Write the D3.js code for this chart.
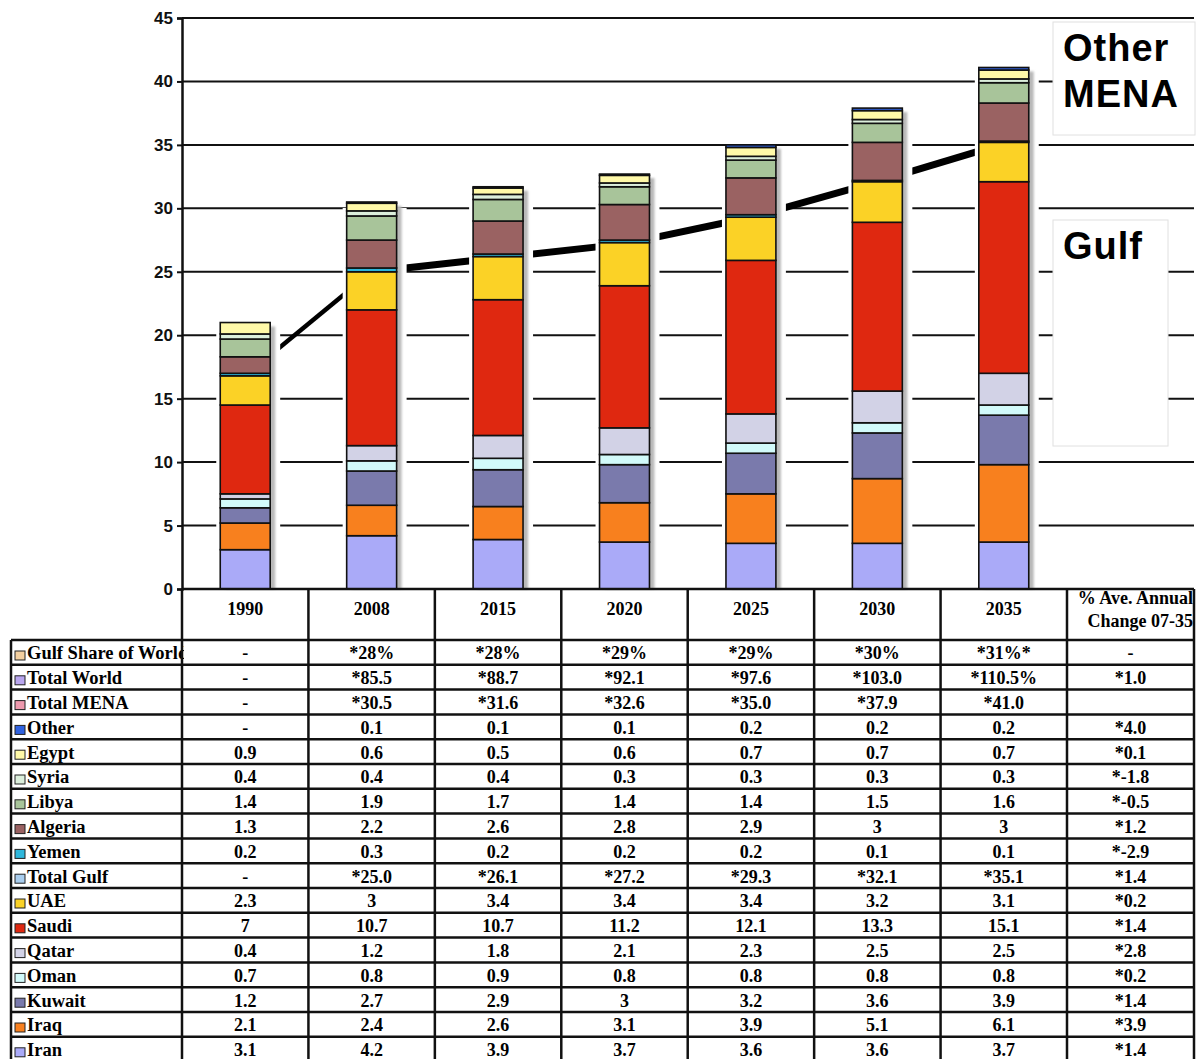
<!DOCTYPE html>
<html>
<head>
<meta charset="utf-8">
<script src="https://cdn.jsdelivr.net/npm/d3@7/dist/d3.min.js"></script>
<style>
  html, body { margin: 0; padding: 0; background: #fff; }
  svg { display: block; }
</style>
</head>
<body>
<svg id="chart" width="1196" height="1059"></svg>
<script>
// Oil production outlook, MENA producers (MMBD)
const categories = ["1990", "2008", "2015", "2020", "2025", "2030", "2035"];

// Producer series, bottom of the stack first
const iran    = [3.1, 4.2, 3.9, 3.7, 3.6, 3.6, 3.7];
const iraq    = [2.1, 2.4, 2.6, 3.1, 3.9, 5.1, 6.1];
const kuwait  = [1.2, 2.7, 2.9, 3, 3.2, 3.6, 3.9];
const oman    = [0.7, 0.8, 0.9, 0.8, 0.8, 0.8, 0.8];
const qatar   = [0.4, 1.2, 1.8, 2.1, 2.3, 2.5, 2.5];
const saudi   = [7, 10.7, 10.7, 11.2, 12.1, 13.3, 15.1];
const uae     = [2.3, 3, 3.4, 3.4, 3.4, 3.2, 3.1];
const yemen   = [0.2, 0.3, 0.2, 0.2, 0.2, 0.1, 0.1];
const algeria = [1.3, 2.2, 2.6, 2.8, 2.9, 3, 3];
const libya   = [1.4, 1.9, 1.7, 1.4, 1.4, 1.5, 1.6];
const syria   = [0.4, 0.4, 0.4, 0.3, 0.3, 0.3, 0.3];
const egypt   = [0.9, 0.6, 0.5, 0.6, 0.7, 0.7, 0.7];
const other   = [null, 0.1, 0.1, 0.1, 0.2, 0.2, 0.2];

// Total Gulf line (1990 point is the sum of the Gulf producers)
const totalGulf = [16.8, 25.0, 26.1, 27.2, 29.3, 32.1, 35.1];

// Summary rows of the table
const gulfShareText  = ["-", "*28%", "*28%", "*29%", "*29%", "*30%", "*31%*"];
const totalWorldText = ["-", "*85.5", "*88.7", "*92.1", "*97.6", "*103.0", "*110.5%"];
const totalMenaText  = ["-", "*30.5", "*31.6", "*32.6", "*35.0", "*37.9", "*41.0"];
const totalGulfText  = ["-", "*25.0", "*26.1", "*27.2", "*29.3", "*32.1", "*35.1"];

// % average annual change 07-35, table order
const changeHeader = ["% Ave. Annual", "Change 07-35"];
const changeText = ["-", "*1.0", "", "*4.0", "*0.1", "*-1.8", "*-0.5", "*1.2", "*-2.9",
                    "*1.4", "*0.2", "*1.4", "*2.8", "*0.2", "*1.4", "*3.9", "*1.4"];

const yTicks = [0, 5, 10, 15, 20, 25, 30, 35, 40, 45];

// ---- styling ----
const colors = {
  "Gulf Share of World": "#f3cfa0",
  "Total World": "#b9a6ee",
  "Total MENA": "#ee9aae",
  "Other": "#3163e0",
  "Egypt": "#fff9a8",
  "Syria": "#dcefdc",
  "Libya": "#a8c49a",
  "Algeria": "#9a6262",
  "Yemen": "#2fb7dc",
  "Total Gulf": "#a9cdee",
  "UAE": "#fbd226",
  "Saudi": "#df2810",
  "Qatar": "#d2d2e6",
  "Oman": "#d2fafa",
  "Kuwait": "#7a7aac",
  "Iraq": "#f8801e",
  "Iran": "#aaaaf8"
};

const series = [
  { name: "Iran", values: iran },
  { name: "Iraq", values: iraq },
  { name: "Kuwait", values: kuwait },
  { name: "Oman", values: oman },
  { name: "Qatar", values: qatar },
  { name: "Saudi", values: saudi },
  { name: "UAE", values: uae },
  { name: "Yemen", values: yemen },
  { name: "Algeria", values: algeria },
  { name: "Libya", values: libya },
  { name: "Syria", values: syria },
  { name: "Egypt", values: egypt },
  { name: "Other", values: other }
];

const fmt = v => (v === null ? "-" : String(v));
const byName = Object.fromEntries(series.map(s => [s.name, s.values.map(fmt)]));

// Table rows, top to bottom
const tableRows = [
  ["Gulf Share of World", gulfShareText],
  ["Total World", totalWorldText],
  ["Total MENA", totalMenaText],
  ["Other", byName["Other"]],
  ["Egypt", byName["Egypt"]],
  ["Syria", byName["Syria"]],
  ["Libya", byName["Libya"]],
  ["Algeria", byName["Algeria"]],
  ["Yemen", byName["Yemen"]],
  ["Total Gulf", totalGulfText],
  ["UAE", byName["UAE"]],
  ["Saudi", byName["Saudi"]],
  ["Qatar", byName["Qatar"]],
  ["Oman", byName["Oman"]],
  ["Kuwait", byName["Kuwait"]],
  ["Iraq", byName["Iraq"]],
  ["Iran", byName["Iran"]]
];

const svg = d3.select("#chart");

const plotLeft = 182, plotRight = 1067, gridRight = 1194;
const plotTop = 18, plotBottom = 589;

const x = d3.scaleBand()
  .domain(categories)
  .range([plotLeft, plotRight])
  .paddingInner(0.605)
  .paddingOuter(0.3025);

const y = d3.scaleLinear().domain([0, 45]).range([plotBottom, plotTop]);

const defs = svg.append("defs");
defs.append("filter").attr("id", "soft")
  .attr("x", "-50%").attr("y", "-10%").attr("width", "200%").attr("height", "120%")
  .append("feGaussianBlur").attr("stdDeviation", 1.2);
defs.append("clipPath").attr("id", "labelClip")
  .append("rect").attr("x", 0).attr("y", 0).attr("width", 184).attr("height", 1059);

// gridlines
svg.append("g")
  .selectAll("line")
  .data(yTicks)
  .join("line")
  .attr("x1", plotLeft).attr("x2", gridRight)
  .attr("y1", d => y(d)).attr("y2", d => y(d))
  .attr("stroke", "#111").attr("stroke-width", 2);

// Total Gulf line, drawn under the bars
const linePts = categories.map((c, i) => [x(c) + x.bandwidth() / 2, y(totalGulf[i])]);
svg.append("g")
  .selectAll("line")
  .data(d3.pairs(linePts))
  .join("line")
  .attr("x1", d => d[0][0]).attr("y1", d => d[0][1])
  .attr("x2", d => d[1][0]).attr("y2", d => d[1][1])
  .attr("stroke", "#000")
  .attr("stroke-width", (d, i) => (i === 0 ? 4.5 : 7));

// stacked bars
const keys = series.map(s => s.name);
const rowsData = categories.map((c, i) => {
  const o = { cat: c };
  series.forEach(s => { o[s.name] = s.values[i] || 0; });
  return o;
});
const stacked = d3.stack().keys(keys)(rowsData);
const totals = rowsData.map(r => d3.sum(keys, k => r[k]));

// drop shadows, with a thin white margin that breaks the line beside each bar
svg.append("g")
  .selectAll("rect")
  .data(rowsData)
  .join("rect")
  .attr("x", d => x(d.cat) - 4)
  .attr("y", (d, i) => y(totals[i]) + 6)
  .attr("width", x.bandwidth() + 14)
  .attr("height", (d, i) => y(0) - y(totals[i]) - 7)
  .attr("fill", "#fff");
svg.append("g")
  .selectAll("rect")
  .data(rowsData)
  .join("rect")
  .attr("x", d => x(d.cat) + 5)
  .attr("y", (d, i) => y(totals[i]) + 4)
  .attr("width", x.bandwidth())
  .attr("height", (d, i) => y(0) - y(totals[i]) - 4)
  .attr("fill", "#b9b9b9")
  .attr("filter", "url(#soft)");

const barG = svg.append("g");
stacked.forEach(layer => {
  barG.append("g")
    .attr("fill", colors[layer.key])
    .selectAll("rect")
    .data(layer.filter(d => d[1] - d[0] > 0))
    .join("rect")
    .attr("x", d => x(d.data.cat))
    .attr("y", d => y(d[1]))
    .attr("width", x.bandwidth())
    .attr("height", d => y(d[0]) - y(d[1]))
    .attr("stroke", "#111")
    .attr("stroke-width", 1.6);
});

// callout boxes
const boxes = [
  { lines: ["Other", "MENA"], x: 1053, y: 22, w: 142, h: 113 },
  { lines: ["Gulf"], x: 1053, y: 220, w: 115, h: 226 }
];
boxes.forEach(b => {
  svg.append("rect")
    .attr("x", b.x).attr("y", b.y).attr("width", b.w).attr("height", b.h)
    .attr("fill", "#fff").attr("stroke", "#e0e0e0").attr("stroke-width", 1);
  b.lines.forEach((t, i) => {
    svg.append("text")
      .attr("x", b.x + 10).attr("y", b.y + 39 + i * 46)
      .attr("font-family", "'Liberation Sans', Arial, sans-serif")
      .attr("font-weight", "bold").attr("font-size", 38)
      .attr("letter-spacing", 1)
      .attr("fill", "#000")
      .text(t);
  });
});

// y axis
const yAxis = d3.axisLeft(y).tickValues(yTicks).tickSize(5).tickPadding(4);
const ag = svg.append("g").attr("transform", `translate(${plotLeft},0)`).call(yAxis);
ag.select(".domain").attr("stroke", "#111").attr("stroke-width", 2.5);
ag.selectAll(".tick line").attr("stroke", "#111").attr("stroke-width", 2);
ag.selectAll(".tick text")
  .attr("font-family", "'Liberation Sans', Arial, sans-serif")
  .attr("font-weight", "bold").attr("font-size", 17).attr("fill", "#111");

// ---- data table ----
const tableLeft = 11;
const headerTop = plotBottom, headerBottom = 640;
const rowH = 24.8;
const colEdges = categories.map(c => x(c) - (x.step() - x.bandwidth()) / 2);
colEdges.push(plotRight, gridRight);
const tableBottom = headerBottom + rowH * tableRows.length;

const tg = svg.append("g");
const serif = "'Liberation Serif', 'Times New Roman', serif";

// header labels
categories.forEach(c => {
  tg.append("text")
    .attr("x", x(c) + x.bandwidth() / 2).attr("y", 615)
    .attr("text-anchor", "middle")
    .attr("font-family", serif).attr("font-weight", "bold").attr("font-size", 18)
    .text(c);
});
changeHeader.forEach((t, i) => {
  tg.append("text")
    .attr("x", gridRight - 1).attr("y", 604 + i * 23)
    .attr("text-anchor", "end")
    .attr("font-family", serif).attr("font-weight", "bold").attr("font-size", 18)
    .text(t);
});

// body rows
tableRows.forEach(([name, vals], r) => {
  const top = headerBottom + r * rowH;
  const base = top + rowH - 5.5;
  tg.append("rect")
    .attr("x", 15).attr("y", top + 11).attr("width", 10).attr("height", 9)
    .attr("fill", colors[name]).attr("stroke", "#222").attr("stroke-width", 1);
  tg.append("text")
    .attr("x", 27).attr("y", base)
    .attr("clip-path", "url(#labelClip)")
    .attr("font-family", serif).attr("font-weight", "bold").attr("font-size", 18.5)
    .text(name);
  vals.forEach((v, i) => {
    tg.append("text")
      .attr("x", x(categories[i]) + x.bandwidth() / 2).attr("y", base)
      .attr("text-anchor", "middle")
      .attr("font-family", serif).attr("font-weight", "bold").attr("font-size", 18)
      .text(v);
  });
  tg.append("text")
    .attr("x", (plotRight + gridRight) / 2).attr("y", base)
    .attr("text-anchor", "middle")
    .attr("font-family", serif).attr("font-weight", "bold").attr("font-size", 18)
    .text(changeText[r]);
});

// table rules
const gl = svg.append("g").attr("stroke", "#111").attr("stroke-width", 2.5);
for (let r = 0; r <= tableRows.length; r++) {
  const yy = headerBottom + r * rowH;
  gl.append("line").attr("x1", tableLeft).attr("x2", gridRight).attr("y1", yy).attr("y2", yy);
}
gl.append("line").attr("x1", tableLeft).attr("x2", tableLeft).attr("y1", headerBottom).attr("y2", tableBottom);
colEdges.forEach(cx => {
  gl.append("line").attr("x1", cx).attr("x2", cx).attr("y1", headerTop).attr("y2", tableBottom);
});
gl.append("line").attr("x1", plotLeft).attr("x2", gridRight).attr("y1", headerTop).attr("y2", headerTop);
</script>
</body>
</html>
